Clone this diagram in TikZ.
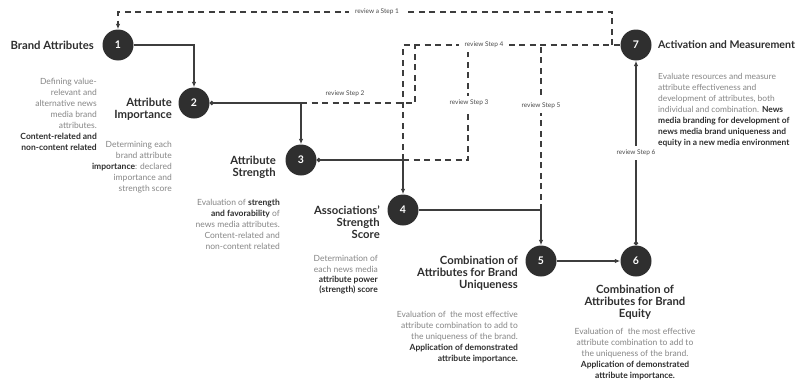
\documentclass[tikz,border=0pt]{standalone}
\usepackage{fontspec}
\setmainfont{Lato}
\usetikzlibrary{arrows.meta}
\definecolor{circ}{HTML}{2F2F2F}
\definecolor{lc}{HTML}{3D3D3D}
\definecolor{txt}{HTML}{2E2E2E}
\definecolor{gry}{HTML}{858585}
\definecolor{lbl}{HTML}{4A4A4A}
\newcommand\myhead{\fontsize{11.3}{12.2}\selectfont\bfseries\color{txt}}
\newcommand\mydesc{\fontsize{8.5}{11}\selectfont\color{gry}}
\newcommand\mylab{\fontsize{6.5}{8}\selectfont\color{lbl}}
\newcommand\bb[1]{\textbf{\color{txt}#1}}
\tikzset{
  stepc/.style={circle,fill=circ,minimum size=31pt,inner sep=0pt,text=white,font=\fontsize{10.5}{12}\selectfont\bfseries},
  head/.style={inner sep=0pt,font=\myhead},
  desc/.style={inner sep=0pt,font=\mydesc},
  flow/.style={draw=lc,line width=1.3pt},
  rev/.style={draw=lc,line width=1.3pt,dash pattern=on 6pt off 4.5pt},
  tip/.style={-{Latex[length=5.5pt,width=4.5pt]}},
  dotstart/.style={{Circle[length=4.2pt]}-{Latex[length=5.5pt,width=4.5pt]}},
  lab/.style={font=\mylab,fill=white,inner xsep=6pt,inner ysep=4pt}
}
\begin{document}
\begin{tikzpicture}[x=1pt,y=-1pt]
\useasboundingbox (0,0) rectangle (799,383);
% step circles
\node[stepc] (c1) at (118,45) {1};
\node[stepc] (c2) at (194,103) {2};
\node[stepc] (c3) at (301,160) {3};
\node[stepc] (c4) at (403,210) {4};
\node[stepc] (c5) at (541,261) {5};
\node[stepc] (c6) at (636,261) {6};
\node[stepc] (c7) at (636,45) {7};
% helper coordinates
\coordinate (k2) at (c3.north |- c2.east);
\coordinate (k3) at (c4.north |- c3.east);
\coordinate (k4) at (c5.north |- c4.east);
\coordinate (r2a) at (415,103);
\coordinate (r2b) at (415,45);
\coordinate (r3a) at (468,160);
\coordinate (r3b) at (468,45);
\coordinate (r5) at (541,45);
\coordinate (r1a) at (612,45);
\coordinate (r1b) at (612,12);
% review (dashed) lines
\draw[rev] (k3) |- (c7.west);
\draw[rev] (k2) -- (r2a) -- (r2b);
\draw[rev] (k3) -- (r3a) -- (r3b);
\draw[rev] (k4) -- (r5);
\draw[rev,tip] (r1a) -- (r1b) -| (c1.north);
% main flow
\draw[flow,tip] (c1.east) -| (c2.north);
\draw[flow,dotstart] (c2.east) -| (c3.north);
\draw[flow,dotstart] (c3.east) -| (c4.north);
\draw[flow,tip] (c4.east) -| (c5.north);
\draw[flow,tip] (c5.east) -- (c6.west);
\draw[flow,dotstart] (c6.north) -- (c7.south);
% review labels
\node[lab] (l1) at (377,12) {review a Step 1};
\node[lab,fill=none] (l2) at (345,94) {review Step 2};
\node[lab] (l3) at (469,103) {review Step 3};
\node[lab] (l4) at (484,45) {review Step 4};
\node[lab] (l5) at (541,106) {review Step 5};
\node[lab] (l6) at (636,153) {review Step 6};
% headings
\node[head,anchor=east] (h1) at (94,45) {Brand Attributes};
\node[head,anchor=east,align=right] (h2) at (172,109.5) {Attribute\\Importance};
\node[head,anchor=east,align=right] (h3) at (276,167) {Attribute\\Strength};
\node[head,anchor=east,align=right] (h4) at (380,222) {Associations'\\Strength\\Score};
\node[head,anchor=east,align=right] (h5) at (518,273) {Combination of\\Attributes for Brand\\Uniqueness};
\node[head,align=center] (h6) at (635,302) {Combination of\\Attributes for Brand\\Equity};
\node[head,anchor=west,font=\fontsize{10.6}{12}\selectfont\bfseries\color{txt}] (h7) at (658,45) {Activation and Measurement};
% descriptions
\node[desc,anchor=east,align=right] (d1) at (97,114) {Defining value-\\relevant and\\alternative news\\media brand\\attributes.\\\bb{Content-related and}\\\bb{non-content related}};
\node[desc,anchor=east,align=right] (d2) at (172,167) {Determining each\\brand attribute\\\bb{importance}: declared\\importance and\\strength score};
\node[desc,anchor=east,align=right] (d3) at (280,224) {Evaluation of \bb{strength}\\\bb{and favorability} of\\news media attributes.\\Content-related and\\non-content related};
\node[desc,anchor=east,align=right,font=\fontsize{8.5}{10.3}\selectfont\color{gry}] (d4) at (378,275) {Determination of\\each news media\\\bb{attribute power}\\\bb{(strength) score}};
\node[desc,anchor=east,align=right] (d5) at (518,337.5) {Evaluation of\ \ the most effective\\attribute combination to add to\\the uniqueness of the brand.\\\bb{Application of demonstrated}\\\bb{attribute importance.}};
\node[desc,align=center] (d6) at (635,354) {Evaluation of\ \ the most effective\\attribute combination to add to\\the uniqueness of the brand.\\\bb{Application of demonstrated}\\\bb{attribute importance.}};
\node[desc,anchor=west,align=left,font=\fontsize{8.4}{11}\selectfont\color{gry}] (d7) at (658,110) {Evaluate resources and measure\\attribute effectiveness and\\development of attributes, both\\individual and combination. \bb{News}\\\bb{media branding for development of}\\\bb{news media brand uniqueness and}\\\bb{equity in a new media environment}};
\end{tikzpicture}
\end{document}
